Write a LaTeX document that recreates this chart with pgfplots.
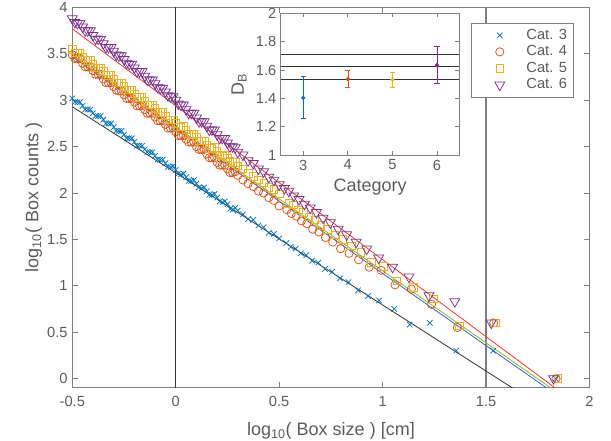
\documentclass[border=0pt]{standalone}
\usepackage{fontspec}
\setmainfont{Liberation Sans}
\usepackage{pgfplots}
\usepackage{pgfplotstable}
\pgfplotsset{compat=1.18}
\definecolor{c3}{rgb}{0,0.447,0.741}
\definecolor{c4}{rgb}{0.85,0.325,0.098}
\definecolor{c5}{rgb}{0.929,0.694,0.125}
\definecolor{c6}{rgb}{0.494,0.184,0.556}
\definecolor{txt}{rgb}{0.36,0.36,0.36}
\definecolor{axc}{rgb}{0.5,0.5,0.5}
\definecolor{fitk}{rgb}{0.2,0.2,0.2}
\definecolor{fitb}{RGB}{70,90,210}
\definecolor{fitg}{RGB}{120,190,60}
\definecolor{fitr}{RGB}{240,60,40}
\pgfplotsset{lgd/.style={legend image code/.code={\path[draw=none,fill=none] (0pt,-3pt) rectangle (36pt,3pt); \draw[##1] plot coordinates {(18pt,0pt)};}}}

\pgfplotstableread{
x y
1.835 0.00
1.534 0.30
1.356 0.30
1.228 0.60
1.131 0.58
1.056 0.75
0.983 0.84
0.930 0.89
0.881 0.95
0.835 1.04
0.794 1.08
0.756 1.15
0.721 1.18
0.689 1.25
0.659 1.27
0.631 1.33
0.605 1.35
0.580 1.40
0.556 1.42
0.534 1.46
0.500 1.51
0.475 1.56
0.450 1.57
0.425 1.63
0.400 1.65
0.375 1.71
0.350 1.72
0.325 1.77
0.300 1.81
0.275 1.82
0.250 1.88
0.225 1.90
0.200 1.95
0.175 1.98
0.150 2.02
0.125 2.05
0.100 2.10
0.075 2.13
0.050 2.17
0.025 2.20
0.000 2.25
-0.025 2.28
-0.050 2.32
-0.075 2.36
-0.100 2.40
-0.125 2.44
-0.150 2.47
-0.175 2.51
-0.200 2.55
-0.225 2.59
-0.250 2.63
-0.275 2.67
-0.300 2.71
-0.325 2.75
-0.350 2.79
-0.375 2.83
-0.400 2.86
-0.425 2.90
-0.450 2.94
-0.475 2.98
-0.500 3.02
0.2875 1.84
0.2625 1.83
0.2375 1.91
0.2125 1.91
0.1875 1.99
0.1625 1.98
0.1375 2.06
0.1125 2.06
0.0875 2.14
0.0625 2.13
0.0375 2.21
0.0125 2.21
-0.0125 2.29
-0.0375 2.28
-0.0625 2.36
-0.0875 2.36
-0.1125 2.44
-0.1375 2.44
-0.1625 2.51
-0.1875 2.51
-0.2125 2.59
-0.2375 2.59
-0.2625 2.67
-0.2875 2.67
-0.3125 2.75
-0.3375 2.75
-0.3625 2.83
-0.3875 2.83
-0.4125 2.90
-0.4375 2.90
-0.4625 2.98
-0.4875 2.98
}\catthree

\pgfplotstableread{
x y
1.838 0.00
1.537 0.60
1.361 0.55
1.236 0.80
1.139 0.965
1.060 1.01
0.993 1.166
0.935 1.20
0.884 1.28
0.838 1.35
0.797 1.40
0.759 1.47
0.724 1.52
0.692 1.58
0.662 1.61
0.634 1.67
0.608 1.70
0.583 1.75
0.559 1.78
0.537 1.82
0.500 1.86
0.475 1.92
0.450 1.95
0.425 2.00
0.400 2.02
0.375 2.07
0.350 2.10
0.325 2.14
0.300 2.19
0.275 2.22
0.250 2.26
0.225 2.30
0.200 2.33
0.175 2.38
0.150 2.42
0.125 2.47
0.100 2.50
0.075 2.55
0.050 2.58
0.025 2.62
0.000 2.66
-0.025 2.70
-0.050 2.74
-0.075 2.78
-0.100 2.82
-0.125 2.86
-0.150 2.90
-0.175 2.94
-0.200 2.98
-0.225 3.02
-0.250 3.06
-0.275 3.10
-0.300 3.15
-0.325 3.19
-0.350 3.23
-0.375 3.28
-0.400 3.32
-0.425 3.36
-0.450 3.40
-0.475 3.45
-0.500 3.49
0.2875 2.23
0.2625 2.22
0.2375 2.30
0.2125 2.30
0.1875 2.38
0.1625 2.38
0.1375 2.47
0.1125 2.47
0.0875 2.55
0.0625 2.55
0.0375 2.62
0.0125 2.62
-0.0125 2.70
-0.0375 2.70
-0.0625 2.78
-0.0875 2.78
-0.1125 2.86
-0.1375 2.86
-0.1625 2.94
-0.1875 2.94
-0.2125 3.02
-0.2375 3.02
-0.2625 3.10
-0.2875 3.11
-0.3125 3.19
-0.3375 3.19
-0.3625 3.28
-0.3875 3.28
-0.4125 3.36
-0.4375 3.36
-0.4625 3.45
-0.4875 3.45
}\catfour

\pgfplotstableread{
x y
1.848 0.00
1.547 0.60
1.371 0.57
1.246 0.857
1.149 0.98
1.070 1.055
1.003 1.21
0.945 1.253
0.894 1.36
0.848 1.43
0.807 1.50
0.769 1.55
0.734 1.61
0.702 1.65
0.672 1.71
0.644 1.74
0.618 1.79
0.593 1.82
0.569 1.87
0.547 1.89
0.500 1.99
0.475 2.04
0.450 2.06
0.425 2.11
0.400 2.14
0.375 2.18
0.350 2.21
0.325 2.26
0.300 2.29
0.275 2.33
0.250 2.38
0.225 2.40
0.200 2.45
0.175 2.48
0.150 2.52
0.125 2.56
0.100 2.60
0.075 2.63
0.050 2.68
0.025 2.71
0.000 2.75
-0.025 2.79
-0.050 2.83
-0.075 2.87
-0.100 2.91
-0.125 2.95
-0.150 2.99
-0.175 3.03
-0.200 3.07
-0.225 3.11
-0.250 3.15
-0.275 3.19
-0.300 3.23
-0.325 3.27
-0.350 3.31
-0.375 3.35
-0.400 3.39
-0.425 3.43
-0.450 3.47
-0.475 3.51
-0.500 3.55
0.2875 2.33
0.2625 2.34
0.2375 2.41
0.2125 2.41
0.1875 2.49
0.1625 2.48
0.1375 2.56
0.1125 2.56
0.0875 2.64
0.0625 2.64
0.0375 2.72
0.0125 2.71
-0.0125 2.79
-0.0375 2.79
-0.0625 2.87
-0.0875 2.87
-0.1125 2.95
-0.1375 2.95
-0.1625 3.03
-0.1875 3.03
-0.2125 3.11
-0.2375 3.11
-0.2625 3.19
-0.2875 3.19
-0.3125 3.27
-0.3375 3.27
-0.3625 3.35
-0.3875 3.35
-0.4125 3.43
-0.4375 3.43
-0.4625 3.51
-0.4875 3.51
}\catfive

\pgfplotstableread{
x y
1.826 0.00
1.525 0.60
1.349 0.83
1.224 0.893
1.127 1.095
1.048 1.20
0.981 1.30
0.923 1.397
0.872 1.47
0.826 1.55
0.785 1.61
0.747 1.68
0.712 1.73
0.680 1.79
0.650 1.84
0.622 1.88
0.596 1.93
0.571 1.97
0.547 2.02
0.525 2.05
0.500 2.09
0.475 2.14
0.450 2.17
0.425 2.23
0.400 2.26
0.375 2.32
0.350 2.35
0.325 2.41
0.300 2.44
0.275 2.50
0.250 2.54
0.225 2.59
0.200 2.63
0.175 2.68
0.150 2.72
0.125 2.77
0.100 2.81
0.075 2.86
0.050 2.90
0.025 2.95
0.000 3.00
-0.025 3.04
-0.050 3.09
-0.075 3.13
-0.100 3.18
-0.125 3.22
-0.150 3.26
-0.175 3.31
-0.200 3.35
-0.225 3.39
-0.250 3.44
-0.275 3.48
-0.300 3.53
-0.325 3.57
-0.350 3.61
-0.375 3.66
-0.400 3.70
-0.425 3.75
-0.450 3.79
-0.475 3.83
-0.500 3.88
0.2875 2.49
0.2625 2.50
0.2375 2.59
0.2125 2.59
0.1875 2.68
0.1625 2.68
0.1375 2.77
0.1125 2.77
0.0875 2.86
0.0625 2.86
0.0375 2.95
0.0125 2.96
-0.0125 3.04
-0.0375 3.05
-0.0625 3.13
-0.0875 3.14
-0.1125 3.22
-0.1375 3.22
-0.1625 3.31
-0.1875 3.31
-0.2125 3.39
-0.2375 3.40
-0.2625 3.48
-0.2875 3.49
-0.3125 3.57
-0.3375 3.57
-0.3625 3.66
-0.3875 3.66
-0.4125 3.75
-0.4375 3.75
-0.4625 3.83
-0.4875 3.84
}\catsix

\begin{document}
\begin{tikzpicture}
\begin{axis}[
  name=main, at={(0,0)}, anchor=south west,
  scale only axis, width=387.9pt, height=285.2pt,
  xmin=-0.5, xmax=2, ymin=-0.1, ymax=4,
  xtick={-0.5,0,0.5,1,1.5,2},
  ytick={0,0.5,1,1.5,2,2.5,3,3.5,4},
  tick align=inside, tick pos=both, major tick length=4pt,
  axis line style={axc, line width=0.8pt},
  tick style={axc, line width=0.6pt},
  /pgf/number format/assume math mode=true,
  ticklabel style={font=\fontsize{11}{13}\selectfont, text=txt},
  xticklabel style={yshift=-3pt},
  label style={font=\fontsize{13.5}{15}\selectfont, text=txt},
  xlabel style={yshift=-5pt},
  ylabel shift=-3pt,
  xlabel={log\textsubscript{10}( Box size ) [cm]},
  ylabel={log\textsubscript{10}( Box counts )},
  legend style={at={(0.970,0.960)}, anchor=north east, draw=axc, line width=0.6pt,
     font=\fontsize{11}{13}\selectfont, text=txt, inner xsep=3pt, inner ysep=3pt,
     row sep=0pt, nodes={inner ysep=1.6pt}},
  legend cell align=left,
]
\addplot[forget plot, fitk, line width=0.7pt] coordinates {(0,-0.1) (0,4)};
\addplot[forget plot, axc, line width=1.1pt] coordinates {(1.5,-0.1) (1.5,4)};
\addplot[only marks, c3, mark=x, mark size=2.9pt, line width=0.55pt, lgd] table[x=x,y=y] {\catthree};
\addlegendentry{Cat. 3}
\addplot[only marks, c4, mark=o, mark size=3.1pt, line width=0.55pt, lgd] table[x=x,y=y] {\catfour};
\addlegendentry{Cat. 4}
\addplot[only marks, c5, mark=square, mark size=2.8pt, line width=0.55pt, lgd] table[x=x,y=y] {\catfive};
\addlegendentry{Cat. 5}
\addplot[only marks, c6, mark=triangle, mark size=4.3pt, line width=0.55pt, mark options={rotate=180}, lgd] table[x=x,y=y] {\catsix};
\addlegendentry{Cat. 6}
\addplot[forget plot, fitk, line width=0.6pt] coordinates {(-0.5,2.93) (1.7,-0.205)};
\addplot[forget plot, fitb, line width=0.6pt] coordinates {(-0.5,3.47) (1.9,-0.269)};
\addplot[forget plot, fitg, line width=0.6pt] coordinates {(-0.5,3.49) (1.9,-0.237)};
\addplot[forget plot, fitr, line width=0.6pt] coordinates {(-0.5,3.77) (1.9,-0.212)};
\end{axis}

\begin{axis}[
  at={(156.5pt,174.5pt)}, anchor=south west,
  scale only axis, width=133.7pt, height=106.3pt,
  xmin=2.5, xmax=6.5, ymin=1, ymax=2,
  xtick={3,4,5,6}, ytick={1,1.2,1.4,1.6,1.8,2},
  tick align=inside, tick pos=both, major tick length=3pt,
  axis background/.style={fill=white},
  axis line style={axc, line width=0.8pt},
  tick style={axc, line width=0.6pt},
  /pgf/number format/assume math mode=true,
  ticklabel style={font=\fontsize{11}{13}\selectfont, text=txt},
  label style={font=\fontsize{13.5}{15}\selectfont, text=txt},
  xlabel={Category},
  ylabel={D\textsubscript{B}},
]
\addplot[fitk, line width=0.6pt] coordinates {(2.5,1.713) (6.5,1.713)};
\addplot[fitk, line width=0.6pt] coordinates {(2.5,1.623) (6.5,1.623)};
\addplot[fitk, line width=0.6pt] coordinates {(2.5,1.534) (6.5,1.534)};
\addplot[c3, mark=*, mark size=1.3pt, line width=0.6pt,
  error bars/.cd, y dir=both, y explicit,
  error mark options={rotate=90, mark size=2pt, line width=0.6pt, c3}]
  coordinates {(3,1.404) += (0,0.149) -= (0,0.145)};
\addplot[c4, mark=*, mark size=1.3pt, line width=0.6pt,
  error bars/.cd, y dir=both, y explicit,
  error mark options={rotate=90, mark size=2pt, line width=0.6pt, c4}]
  coordinates {(4,1.536) += (0,0.059) -= (0,0.058)};
\addplot[c5, mark=*, mark size=1.3pt, line width=0.6pt,
  error bars/.cd, y dir=both, y explicit,
  error mark options={rotate=90, mark size=2pt, line width=0.6pt, c5}]
  coordinates {(5,1.531) += (0,0.050) -= (0,0.053)};
\addplot[c6, mark=*, mark size=1.3pt, line width=0.6pt,
  error bars/.cd, y dir=both, y explicit,
  error mark options={rotate=90, mark size=2pt, line width=0.6pt, c6}]
  coordinates {(6,1.635) += (0,0.129) -= (0,0.129)};
\end{axis}
\pgfresetboundingbox
\useasboundingbox (-54.2pt,-39.2pt) rectangle (404pt,290.8pt);
\end{tikzpicture}
\end{document}
